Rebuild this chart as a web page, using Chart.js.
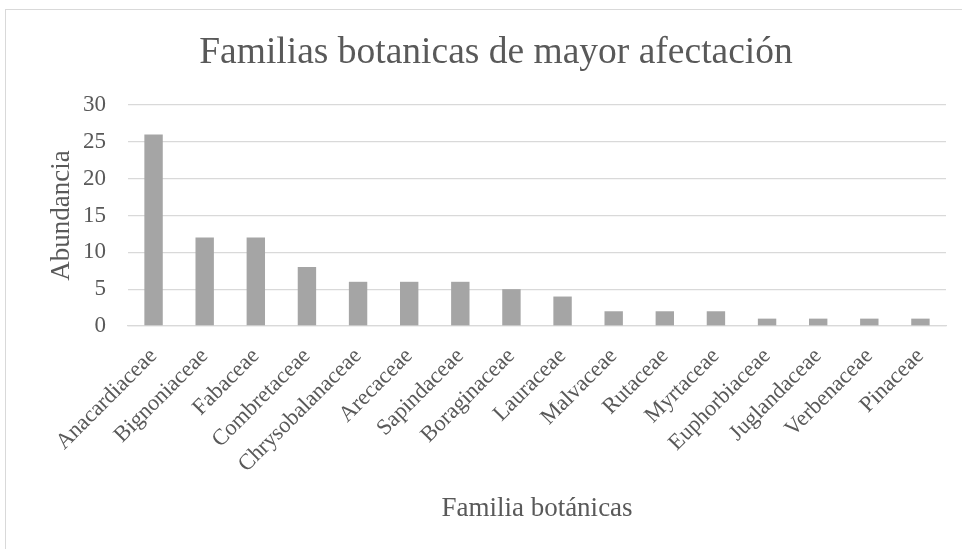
<!DOCTYPE html>
<html><head><meta charset="utf-8">
<script src="https://cdn.jsdelivr.net/npm/chart.js@4/dist/chart.umd.min.js"></script>
<style>
html,body{margin:0;padding:0;background:#fff;}
#box{position:absolute;left:5px;top:9px;width:970px;height:560px;border:1px solid #d9d9d9;}
#wrap{position:absolute;left:0;top:0;width:962px;height:549px;}
</style></head><body>
<div id="box"></div>
<div id="wrap"><canvas id="c" width="962" height="549"></canvas></div>
<script>
const categories = ["Anacardiaceae","Bignoniaceae","Fabaceae","Combretaceae","Chrysobalanaceae","Arecaceae","Sapindaceae","Boraginaceae","Lauraceae","Malvaceae","Rutaceae","Myrtaceae","Euphorbiaceae","Juglandaceae","Verbenaceae","Pinaceae"];
const abundancia = [26,12,12,8,6,6,6,5,4,2,2,2,1,1,1,1];
const yTicks = [0,5,10,15,20,25,30];
const titleText = "Familias botanicas de mayor afectación";
const xTitle = "Familia botánicas";
const yTitle = "Abundancia";
const serif = "'Liberation Serif', 'Times New Roman', serif";
const grey = "#595959";
new Chart(document.getElementById('c'), {
  type: 'bar',
  data: { labels: categories, datasets: [{ data: abundancia, backgroundColor: '#a5a5a5', categoryPercentage: 1, barPercentage: 0.36 }] },
  options: {
    responsive: false, animation: false,
    layout: { padding: { left: 46, right: 16, top: 14, bottom: 24 } },
    plugins: {
      legend: { display: false }, tooltip: { enabled: false },
      title: { display: true, text: titleText, color: grey, font: { family: serif, size: 37.5, weight: 'normal' }, padding: { top: 17, bottom: 29 } }
    },
    scales: {
      y: {
        min: 0, max: 30,
        afterBuildTicks: a => { a.ticks = yTicks.map(v => ({ value: v })); },
        afterFit: s => { s.width = 82; },
        ticks: { color: grey, font: { family: serif, size: 23 }, padding: 22 },
        grid: { color: '#d9d9d9', lineWidth: 1.3, drawTicks: false },
        border: { display: false },
        title: { display: true, text: yTitle, color: grey, font: { family: serif, size: 27 }, padding: { top: 0, bottom: 5 } }
      },
      x: {
        afterFit: s => { s.paddingLeft = 0; s.paddingRight = 0; s.height = 199; },
        ticks: { color: grey, font: { family: serif, size: 22.5 }, maxRotation: 45, minRotation: 45, padding: 17 },
        grid: { display: false, drawTicks: false },
        border: { color: '#d9d9d9', width: 1.3 },
        title: { display: true, text: xTitle, color: grey, font: { family: serif, size: 27 }, padding: { top: 6, bottom: 0 } }
      }
    }
  }
});
</script></body></html>
